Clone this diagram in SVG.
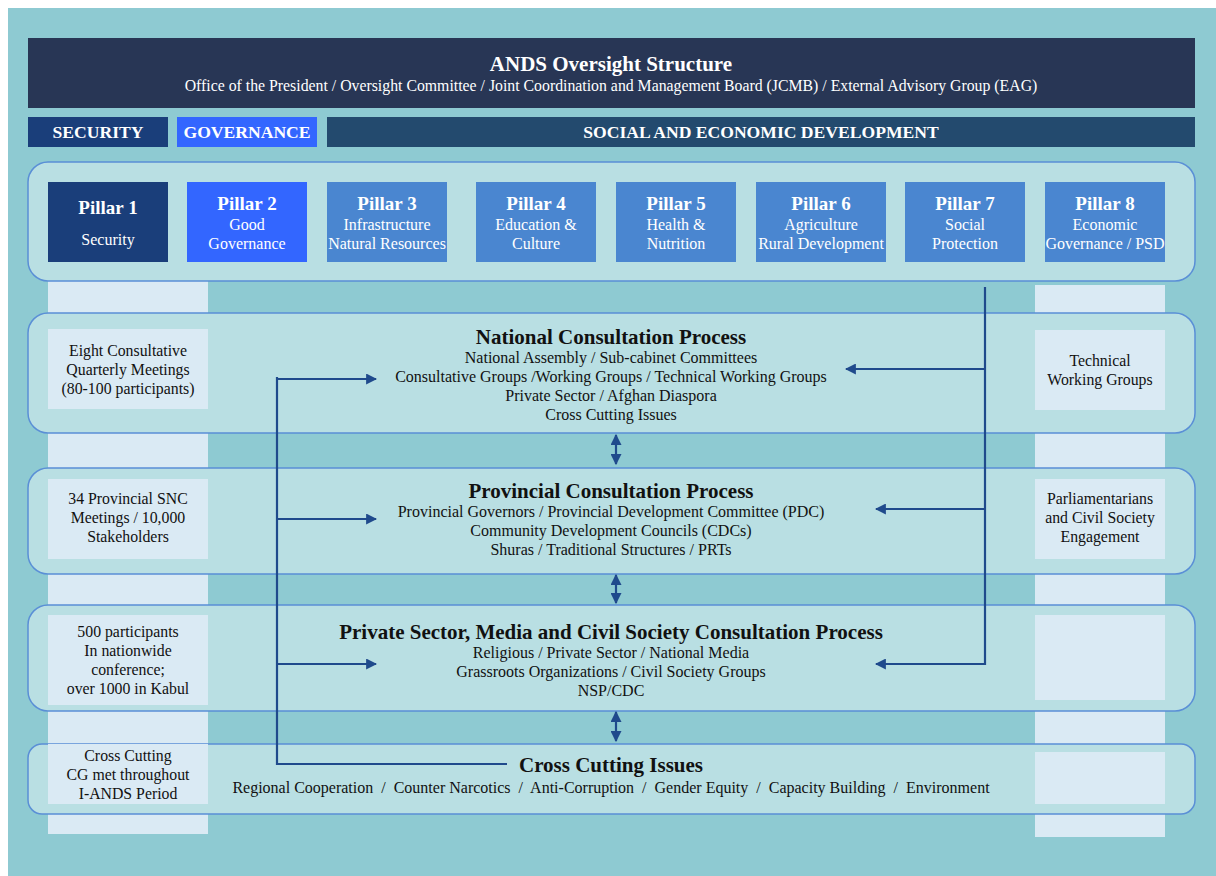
<svg xmlns="http://www.w3.org/2000/svg" width="1216" height="876" viewBox="0 0 1216 876">
<defs>
<style>
text{font-family:"Liberation Serif","Times New Roman",serif;text-anchor:middle}
.w{fill:#ffffff}
.hd{font-size:21px;font-weight:bold}
.sub{font-size:15.8px}
.cat{font-size:17.6px;font-weight:bold;fill:#ffffff}
.pt{font-size:19px;font-weight:bold;fill:#ffffff}
.ps{font-size:16px;fill:#ffffff}
.row{fill:#B9DFE3;stroke:#5A8FD6;stroke-width:1.5}
.col{fill:#DAEAF4}
.rt{font-size:21px;font-weight:bold;fill:#111111}
.rl{font-size:16px;fill:#111111}
.bl{font-size:15.8px;fill:#111111}
.con{stroke:#1F4A8C;stroke-width:2.2;fill:none}
</style>
<marker id="ah" viewBox="0 0 10 10" refX="9" refY="5" markerWidth="5" markerHeight="5" orient="auto-start-reverse" markerUnits="strokeWidth">
<path d="M0,0 L10,5 L0,10 z" fill="#1F4A8C"/>
</marker>
</defs>
<rect x="0" y="0" width="1216" height="876" fill="#ffffff"/>
<rect x="8" y="8" width="1208" height="868" fill="#8ECAD2"/>

<g id="header">
<rect x="28" y="38" width="1167" height="70" fill="#283655"/>
<text x="611" y="71" class="hd w">ANDS Oversight Structure</text>
<text x="611" y="91" class="sub w">Office of the President / Oversight Committee / Joint Coordination and Management Board (JCMB) / External Advisory Group (EAG)</text>
</g>

<g id="cat-security"><rect x="28" y="117" width="140" height="30" fill="#1A3E7A"/><text x="98" y="138" class="cat">SECURITY</text></g>
<g id="cat-governance"><rect x="177" y="117" width="140" height="30" fill="#3366FF"/><text x="247" y="138" class="cat">GOVERNANCE</text></g>
<g id="cat-social"><rect x="327" y="117" width="868" height="30" fill="#234A6E"/><text x="761" y="138" class="cat">SOCIAL AND ECONOMIC DEVELOPMENT</text></g>

<g id="columns">
<rect x="48" y="281" width="160" height="553" class="col"/>
<rect x="1035" y="285" width="130" height="552" class="col"/>
</g>

<g id="pillars">
<rect x="28" y="162" width="1167" height="119" rx="20" class="row"/>
<g id="pillar1"><rect x="48" y="182" width="120" height="80" fill="#1A3E7A"/><text x="108" y="214" class="pt">Pillar 1</text><text x="108" y="245" class="ps">Security</text></g>
<g id="pillar2"><rect x="187" y="182" width="120" height="80" fill="#3366FF"/><text x="247" y="210" class="pt">Pillar 2</text><text x="247" y="230" class="ps">Good</text><text x="247" y="249" class="ps">Governance</text></g>
<g id="pillar3"><rect x="327" y="182" width="120" height="80" fill="#4A86D0"/><text x="387" y="210" class="pt">Pillar 3</text><text x="387" y="230" class="ps">Infrastructure</text><text x="387" y="249" class="ps">Natural Resources</text></g>
<g id="pillar4"><rect x="476" y="182" width="120" height="80" fill="#4A86D0"/><text x="536" y="210" class="pt">Pillar 4</text><text x="536" y="230" class="ps">Education &amp;</text><text x="536" y="249" class="ps">Culture</text></g>
<g id="pillar5"><rect x="616" y="182" width="120" height="80" fill="#4A86D0"/><text x="676" y="210" class="pt">Pillar 5</text><text x="676" y="230" class="ps">Health &amp;</text><text x="676" y="249" class="ps">Nutrition</text></g>
<g id="pillar6"><rect x="756" y="182" width="130" height="80" fill="#4A86D0"/><text x="821" y="210" class="pt">Pillar 6</text><text x="821" y="230" class="ps">Agriculture</text><text x="821" y="249" class="ps">Rural Development</text></g>
<g id="pillar7"><rect x="905" y="182" width="120" height="80" fill="#4A86D0"/><text x="965" y="210" class="pt">Pillar 7</text><text x="965" y="230" class="ps">Social</text><text x="965" y="249" class="ps">Protection</text></g>
<g id="pillar8"><rect x="1045" y="182" width="120" height="80" fill="#4A86D0"/><text x="1105" y="210" class="pt">Pillar 8</text><text x="1105" y="230" class="ps">Economic</text><text x="1105" y="249" class="ps">Governance / PSD</text></g>
</g>

<g id="national">
<rect x="28" y="313" width="1167" height="120" rx="20" class="row"/>
<rect x="48" y="329" width="160" height="80" class="col"/>
<rect x="1035" y="330" width="130" height="80" class="col"/>
<text x="128" y="356" class="bl">Eight Consultative</text>
<text x="128" y="375" class="bl">Quarterly Meetings</text>
<text x="128" y="394" class="bl">(80-100 participants)</text>
<text x="1100" y="366" class="bl">Technical</text>
<text x="1100" y="385" class="bl">Working Groups</text>
<text x="611" y="344" class="rt">National Consultation Process</text>
<text x="611" y="363" class="rl">National Assembly / Sub-cabinet Committees</text>
<text x="611" y="382" class="rl">Consultative Groups /Working Groups / Technical Working Groups</text>
<text x="611" y="401" class="rl">Private Sector / Afghan Diaspora</text>
<text x="611" y="420" class="rl">Cross Cutting Issues</text>
</g>

<g id="provincial">
<rect x="28" y="468" width="1167" height="106" rx="20" class="row"/>
<rect x="48" y="479" width="160" height="80" class="col"/>
<rect x="1035" y="479" width="130" height="80" class="col"/>
<text x="128" y="504" class="bl">34 Provincial SNC</text>
<text x="128" y="523" class="bl">Meetings / 10,000</text>
<text x="128" y="542" class="bl">Stakeholders</text>
<text x="1100" y="504" class="bl">Parliamentarians</text>
<text x="1100" y="523" class="bl">and Civil Society</text>
<text x="1100" y="542" class="bl">Engagement</text>
<text x="611" y="498" class="rt">Provincial Consultation Process</text>
<text x="611" y="517" class="rl">Provincial Governors / Provincial Development Committee (PDC)</text>
<text x="611" y="536" class="rl">Community Development Councils (CDCs)</text>
<text x="611" y="555" class="rl">Shuras / Traditional Structures / PRTs</text>
</g>

<g id="private">
<rect x="28" y="605" width="1167" height="106" rx="20" class="row"/>
<rect x="48" y="615" width="160" height="90" class="col"/>
<rect x="1035" y="615" width="130" height="85" class="col"/>
<text x="128" y="637" class="bl">500 participants</text>
<text x="128" y="656" class="bl">In nationwide</text>
<text x="128" y="675" class="bl">conference;</text>
<text x="128" y="694" class="bl">over 1000 in Kabul</text>
<text x="611" y="639" class="rt">Private Sector, Media and Civil Society Consultation Process</text>
<text x="611" y="658" class="rl">Religious / Private Sector / National Media</text>
<text x="611" y="677" class="rl">Grassroots Organizations / Civil Society Groups</text>
<text x="611" y="696" class="rl">NSP/CDC</text>
</g>

<g id="crosscutting">
<rect x="28" y="744" width="1167" height="70" rx="14" class="row"/>
<rect x="48" y="744" width="160" height="60" class="col"/>
<rect x="1035" y="752" width="130" height="52" class="col"/>
<text x="128" y="761" class="bl">Cross Cutting</text>
<text x="128" y="780" class="bl">CG met throughout</text>
<text x="128" y="799" class="bl">I-ANDS Period</text>
<text x="611" y="772" class="rt">Cross Cutting Issues</text>
<text x="611" y="793" class="rl" style="white-space:pre" xml:space="preserve">Regional Cooperation  /  Counter Narcotics  /  Anti-Corruption  /  Gender Equity  /  Capacity Building  /  Environment</text>
</g>

<g id="connectors">
<polyline class="con" points="507,764 277,764 277,377"/>
<line class="con" x1="277" y1="379" x2="376" y2="379" marker-end="url(#ah)"/>
<line class="con" x1="277" y1="519" x2="376" y2="519" marker-end="url(#ah)"/>
<line class="con" x1="277" y1="664" x2="376" y2="664" marker-end="url(#ah)"/>
<polyline class="con" points="985,287 985,664 876,664" marker-end="url(#ah)"/>
<line class="con" x1="985" y1="369" x2="846" y2="369" marker-end="url(#ah)"/>
<line class="con" x1="985" y1="509" x2="876" y2="509" marker-end="url(#ah)"/>
<line class="con" x1="616" y1="435" x2="616" y2="464" marker-start="url(#ah)" marker-end="url(#ah)"/>
<line class="con" x1="616" y1="575" x2="616" y2="603" marker-start="url(#ah)" marker-end="url(#ah)"/>
<line class="con" x1="616" y1="712" x2="616" y2="741" marker-start="url(#ah)" marker-end="url(#ah)"/>
</g>
</svg>
